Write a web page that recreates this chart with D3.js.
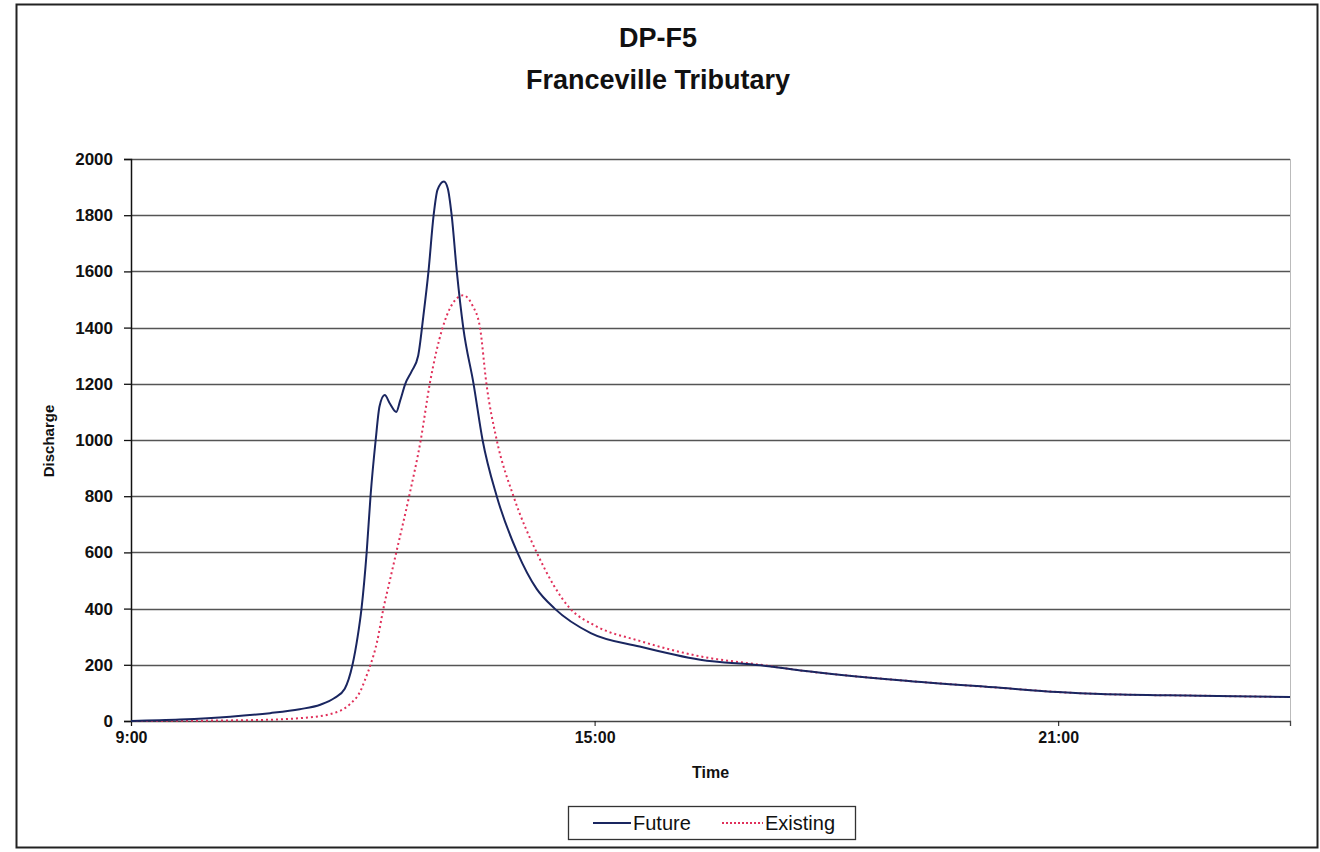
<!DOCTYPE html>
<html>
<head>
<meta charset="utf-8">
<script src="https://cdn.jsdelivr.net/npm/d3@7"></script>
<style>
  html, body { margin: 0; padding: 0; background: #fff; }
  svg { display: block; font-family: "Liberation Sans", Arial, sans-serif; }
</style>
</head>
<body>
<svg id="chart" width="1320" height="852"></svg>
<script>
// ---- data ----
const titleLines = ["DP-F5", "Franceville Tributary"];
const yTicks = [0, 200, 400, 600, 800, 1000, 1200, 1400, 1600, 1800, 2000];
const xTickLabels = ["9:00", "15:00", "21:00"];
const seriesNames = ["Future", "Existing"];

const futureTimes = ["9:00","9:38","10:17","10:48","11:11","11:27","11:38","11:46","11:52","11:56","11:59","12:03","12:06","12:10","12:13","12:17","12:21","12:26","12:29","12:33","12:38","12:43","12:47","12:51","12:55","12:58","13:03","13:06","13:09","13:13","13:18","13:26","13:33","13:44","14:00","14:15","14:29","14:57","15:35","16:22","17:09","17:40","18:57","20:15","21:00","21:33","22:50","24:00"];
const futureValues = [0,5,15,28,42,58,82,115,200,300,400,600,800,1000,1120,1160,1130,1100,1140,1200,1245,1300,1440,1600,1800,1890,1920,1895,1800,1600,1400,1200,1000,800,600,470,400,313,265,218,198,180,145,118,103,96,90,85];

const existingTimes = ["9:00","10:32","11:11","11:35","11:50","11:58","12:02","12:06","12:11","12:16","12:21","12:26","12:36","12:45","12:52","13:02","13:09","13:18","13:25","13:31","13:36","13:44","13:57","14:15","14:41","15:00","15:35","16:22","17:09","17:40","18:57","20:15","21:00","21:33","22:50","24:00"];
const existingValues = [0,3,10,25,60,105,150,200,280,400,500,600,800,1000,1200,1400,1480,1515,1480,1400,1200,1000,800,600,400,340,285,230,200,180,145,118,103,96,90,85];

// ---- helpers ----
const toHours = s => { const [h, m] = s.split(":").map(Number); return h + m / 60; };
const future = futureTimes.map((t, i) => ({ x: toHours(t), y: futureValues[i] }));
const existing = existingTimes.map((t, i) => ({ x: toHours(t), y: existingValues[i] }));

const svg = d3.select("#chart");
const plot = { left: 131, right: 1290, top: 159, bottom: 721 };

// outer border
svg.append("rect").attr("x", 16.5).attr("y", 4.5).attr("width", 1301).attr("height", 843)
  .attr("fill", "#fff").attr("stroke", "#222").attr("stroke-width", 2);

const x = d3.scaleLinear().domain([9, 24]).range([plot.left, plot.right]);
const y = d3.scaleLinear().domain([0, 2000]).range([plot.bottom, plot.top]);

// title
svg.append("g").selectAll("text").data(titleLines).join("text")
  .attr("x", 658).attr("y", (d, i) => 47 + i * 42)
  .attr("text-anchor", "middle").attr("font-size", 27).attr("font-weight", "bold")
  .attr("fill", "#111").text(d => d);

// gridlines
svg.append("g").selectAll("line").data(yTicks.filter(v => v > 0)).join("line")
  .attr("x1", plot.left).attr("x2", plot.right)
  .attr("y1", d => Math.round(y(d)) + 0.5).attr("y2", d => Math.round(y(d)) + 0.5)
  .attr("stroke", "#555").attr("stroke-width", 1.3);

// plot right border
svg.append("line").attr("x1", plot.right + 0.5).attr("x2", plot.right + 0.5)
  .attr("y1", plot.top).attr("y2", plot.bottom)
  .attr("stroke", "#bbb").attr("stroke-width", 1);

// y axis
const yAxis = d3.axisLeft(y).tickValues(yTicks).tickSize(7).tickPadding(11).tickFormat(d3.format("d"));
const gy = svg.append("g").attr("transform", `translate(${plot.left},0)`).call(yAxis);
gy.select(".domain").attr("stroke", "#111").attr("stroke-width", 1.5);
gy.selectAll(".tick line").attr("stroke", "#111").attr("stroke-width", 1.3);
gy.selectAll("text").attr("font-size", 17).attr("font-weight", "bold").attr("fill", "#111")
  .attr("font-family", "Liberation Sans, Arial, sans-serif");

// x axis
const xAxis = d3.axisBottom(x).tickValues(xTickLabels.map(toHours)).tickSize(5).tickPadding(6)
  .tickFormat((d, i) => xTickLabels[i]);
const gx = svg.append("g").attr("transform", `translate(0,${plot.bottom})`).call(xAxis);
gx.select(".domain").attr("stroke", "#444").attr("stroke-width", 1.3);
gx.selectAll(".tick line").attr("stroke", "#111");
gx.selectAll("text").attr("font-size", 16).attr("font-weight", "bold").attr("fill", "#111")
  .attr("font-family", "Liberation Sans, Arial, sans-serif");

// axis titles
svg.append("text").attr("x", (plot.left + plot.right) / 2).attr("y", 778)
  .attr("text-anchor", "middle").attr("font-size", 16).attr("font-weight", "bold")
  .attr("fill", "#111").text("Time");
svg.append("text").attr("transform", "translate(54,441) rotate(-90)")
  .attr("text-anchor", "middle").attr("font-size", 15).attr("font-weight", "bold")
  .attr("fill", "#111").text("Discharge");

// lines
const line = d3.line().x(d => x(d.x)).y(d => y(d.y)).curve(d3.curveMonotoneX);
svg.append("path").datum(existing).attr("d", line)
  .attr("fill", "none").attr("stroke", "#e0305a").attr("stroke-width", 2)
  .attr("stroke-dasharray", "2,3");
svg.append("path").datum(future).attr("d", line)
  .attr("fill", "none").attr("stroke", "#1a2660").attr("stroke-width", 2);

// legend
const lg = svg.append("g");
lg.append("rect").attr("x", 568.5).attr("y", 806.5).attr("width", 287).attr("height", 33)
  .attr("fill", "#fff").attr("stroke", "#333").attr("stroke-width", 1.3);
const legendItems = [
  { name: seriesNames[0], x1: 593, x2: 631, color: "#1a2660", dash: null, tx: 633 },
  { name: seriesNames[1], x1: 722, x2: 763, color: "#e0305a", dash: "2,2", tx: 765 }
];
legendItems.forEach(it => {
  lg.append("line").attr("x1", it.x1).attr("x2", it.x2).attr("y1", 823).attr("y2", 823)
    .attr("stroke", it.color).attr("stroke-width", 2).attr("stroke-dasharray", it.dash);
  lg.append("text").attr("x", it.tx).attr("y", 830).attr("font-size", 20)
    .attr("fill", "#111").text(it.name);
});
</script>
</body>
</html>
